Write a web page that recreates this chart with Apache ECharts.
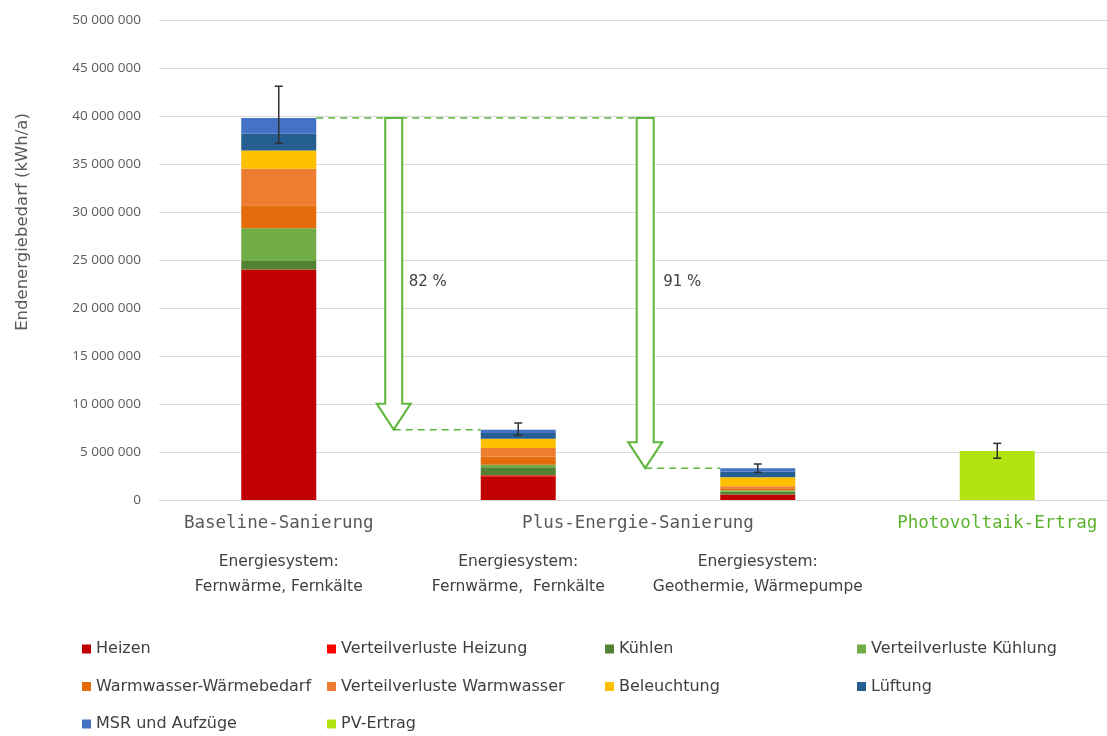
<!DOCTYPE html>
<html><head><meta charset="utf-8">
<script src="https://cdn.jsdelivr.net/npm/echarts@6/dist/echarts.min.js"></script>
<style>html,body{margin:0;padding:0;background:#fff;overflow:hidden;width:1107px;height:736px}#c{width:1117px;height:736px}</style>
</head><body><div id="c"></div>
<script>
// ---- data ----
const categories = ['Baseline', 'Plus-Energie FW', 'Plus-Energie GT', 'PV'];
const heizen       = [24000000, 2470000, 520000, 0];
const vvHeizung    = [0, 100000, 50000, 0];
const kuehlen      = [900000, 850000, 300000, 0];
const vvKuehlung   = [3400000, 250000, 150000, 0];
const warmwasser   = [2400000, 870000, 200000, 0];
const vvWarmwasser = [3800000, 870000, 200000, 0];
const beleuchtung  = [1900000, 970000, 950000, 0];
const lueftung     = [1750000, 600000, 600000, 0];
const msr          = [1650000, 350000, 350000, 0];
const pvErtrag     = [0, 0, 0, 5100000];
const errLow  = [37150000, 6740000, 2880000, 4350000];
const errHigh = [43100000, 8020000, 3750000, 5900000];
const groupLabels = ['Baseline-Sanierung', 'Plus-Energie-Sanierung', 'Photovoltaik-Ertrag'];
const systemLabels = ['Energiesystem:\nFernwärme, Fernkälte', 'Energiesystem:\nFernwärme,  Fernkälte', 'Energiesystem:\nGeothermie, Wärmepumpe'];
const reductions = ['82 %', '91 %'];
const yAxisName = 'Endenergiebedarf (kWh/a)';

const seriesDefs = [
  ['Heizen', heizen, '#c00000'],
  ['Verteilverluste Heizung', vvHeizung, '#ff0000'],
  ['Kühlen', kuehlen, '#548235'],
  ['Verteilverluste Kühlung', vvKuehlung, '#70ad47'],
  ['Warmwasser-Wärmebedarf', warmwasser, '#e46c0a'],
  ['Verteilverluste Warmwasser', vvWarmwasser, '#ed7d31'],
  ['Beleuchtung', beleuchtung, '#ffc000'],
  ['Lüftung', lueftung, '#255e91'],
  ['MSR und Aufzüge', msr, '#4472c4'],
  ['PV-Ertrag', pvErtrag, '#b4e312']
];

// the reference plot area runs slightly past the right edge of the picture,
// so the chart canvas is a little wider than the visible page
const chart = echarts.init(document.getElementById('c'), null, {renderer: 'canvas'});
const fmt = v => String(v).replace(/\B(?=(\d{3})+(?!\d))/g, ' ');
const legendText = {fontFamily: 'DejaVu Sans', fontSize: 16, color: '#404040', lineHeight: 18};
function legendCol(left, names) {
  return {orient: 'vertical', left: left, top: 640, padding: 0, icon: 'rect', itemWidth: 9, itemHeight: 9,
    itemGap: 19.5, data: names, textStyle: legendText, selectedMode: false};
}

chart.setOption({
  animation: false,
  backgroundColor: '#fff',
  grid: {left: 159, top: 20, width: 958, height: 480},
  legend: [
    legendCol(82, ['Heizen', 'Warmwasser-Wärmebedarf', 'MSR und Aufzüge']),
    legendCol(327, ['Verteilverluste Heizung', 'Verteilverluste Warmwasser', 'PV-Ertrag']),
    legendCol(605, ['Kühlen', 'Beleuchtung']),
    legendCol(857, ['Verteilverluste Kühlung', 'Lüftung'])
  ],
  xAxis: {type: 'category', data: categories,
    axisLine: {lineStyle: {color: '#d9d9d9', width: 1}}, axisTick: {show: false}, axisLabel: {show: false}},
  yAxis: {type: 'value', min: 0, max: 50000000, interval: 5000000,
    axisLine: {show: false}, axisTick: {show: false},
    axisLabel: {formatter: fmt, fontFamily: 'Open Sans', fontSize: 13.5, color: '#595959', margin: 18},
    splitLine: {lineStyle: {color: '#d9d9d9', width: 1}}},
  series: seriesDefs.map(([name, data, color]) => ({
    name, type: 'bar', stack: 'total', data, barWidth: 75,
    itemStyle: {color}, emphasis: {disabled: true}
  })).concat([{
    type: 'custom', z: 10, silent: true,
    data: categories.map((c, i) => [i, errLow[i], errHigh[i]]),
    renderItem: (params, api) => {
      const lo = api.coord([api.value(0), api.value(1)]);
      const hi = api.coord([api.value(0), api.value(2)]);
      const w = 4, st = {stroke: '#303030', lineWidth: 1.5};
      return {type: 'group', children: [
        {type: 'line', shape: {x1: lo[0], y1: lo[1], x2: hi[0], y2: hi[1]}, style: st},
        {type: 'line', shape: {x1: lo[0]-w, y1: lo[1], x2: lo[0]+w, y2: lo[1]}, style: st},
        {type: 'line', shape: {x1: hi[0]-w, y1: hi[1], x2: hi[0]+w, y2: hi[1]}, style: st}
      ]};
    }
  }])
});

// ---- annotations computed from the axes ----
const px = (i, v) => chart.convertToPixel({gridIndex: 0}, [i, v]);
const totals = categories.map((c, i) => seriesDefs.slice(0, 9).reduce((s, d) => s + d[1][i], 0));
const half = 37.5;
const c0 = px(0, 0)[0], c1 = px(1, 0)[0], c2 = px(2, 0)[0], c3 = px(3, 0)[0];
const yTop = px(0, totals[0])[1], y1 = px(1, totals[1])[1], y2 = px(2, totals[2])[1];
const a1x = c0 + (c1 - c0) * 0.48, a2x = c1 + (c2 - c1) * 0.53;
const green = '#5cb83a';
function arrow(x, top, tip) {
  const sw = 8.5, hw = 17, hh = 26;
  return {type: 'polygon', z: 20, shape: {points: [[x-sw, top], [x+sw, top], [x+sw, tip-hh], [x+hw, tip-hh], [x, tip], [x-hw, tip-hh], [x-sw, tip-hh]]},
    style: {fill: '#fff', stroke: green, lineWidth: 2}};
}
function dash(x1, x2, y) {
  return {type: 'line', z: 15, shape: {x1, y1: y, x2, y2: y}, style: {stroke: green, lineWidth: 1.5, lineDash: [7, 5]}};
}
const catFont = {fontFamily: 'DejaVu Sans Mono', fontSize: 17.5};
const pctY = (yTop + y1) / 2 + 8;
const g = [
  dash(c0 + half, a2x, yTop),
  dash(a1x, c1 - half, y1),
  dash(a2x, c2 - half, y2),
  arrow(a1x, yTop, y1),
  arrow(a2x, yTop, y2),
  {type: 'text', z: 30, style: {text: reductions[0], x: a1x + 15, y: pctY, fontFamily: 'DejaVu Sans', fontSize: 15, fill: '#404040', verticalAlign: 'middle'}},
  {type: 'text', z: 30, style: {text: reductions[1], x: a2x + 18, y: pctY, fontFamily: 'DejaVu Sans', fontSize: 15, fill: '#404040', verticalAlign: 'middle'}},
  {type: 'text', style: Object.assign({text: groupLabels[0], x: c0, y: 523, fill: '#595959', align: 'center', verticalAlign: 'middle'}, catFont)},
  {type: 'text', style: Object.assign({text: groupLabels[1], x: (c1 + c2) / 2, y: 523, fill: '#595959', align: 'center', verticalAlign: 'middle'}, catFont)},
  {type: 'text', style: Object.assign({text: groupLabels[2], x: c3, y: 523, fill: '#5cb32e', align: 'center', verticalAlign: 'middle'}, catFont)},
  {type: 'text', x: 23, y: 222, rotation: Math.PI / 2, style: {text: yAxisName, x: 0, y: 0, align: 'center', verticalAlign: 'middle',
    fontFamily: 'DejaVu Sans', fontSize: 16.5, fill: '#595959'}}
];
[c0, c1, c2].forEach((cx, i) => g.push({type: 'text', style: {text: systemLabels[i], x: cx, y: 549, align: 'center', verticalAlign: 'top',
  fontFamily: 'DejaVu Sans', fontSize: 15.5, lineHeight: 25, fill: '#404040'}}));
chart.setOption({graphic: g});
</script>
</body></html>
